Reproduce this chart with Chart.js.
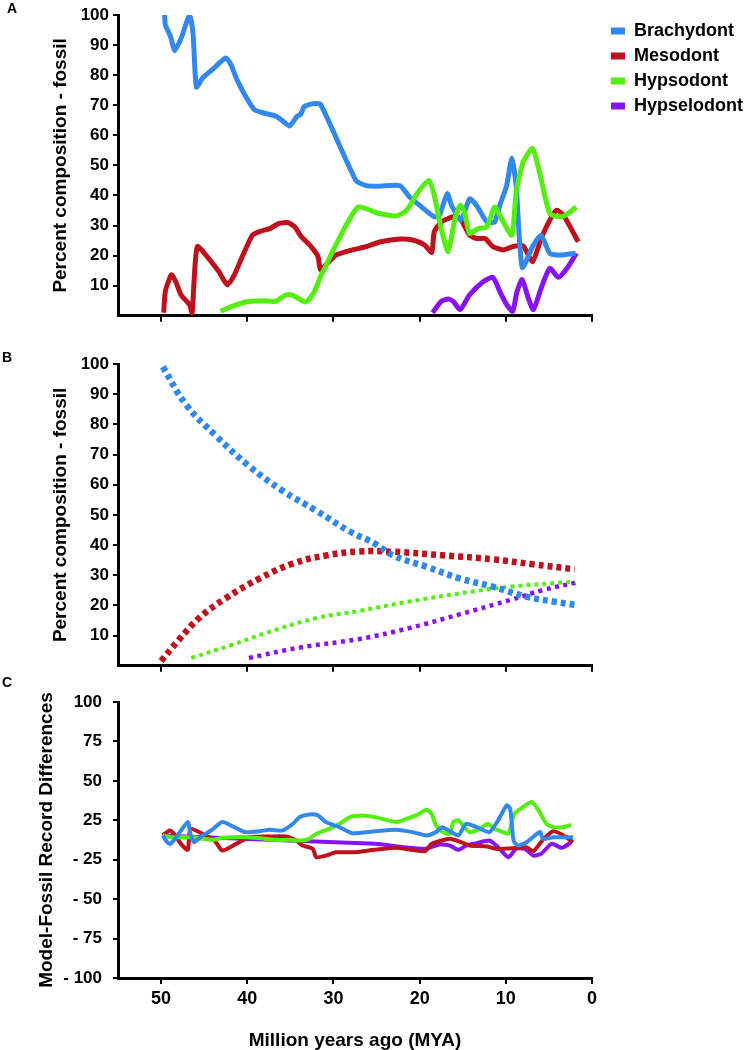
<!DOCTYPE html>
<html><head><meta charset="utf-8">
<script src="https://cdn.jsdelivr.net/npm/chart.js@4.4.1/dist/chart.umd.min.js"></script>
<style>
body{margin:0;background:#fff;width:747px;height:1050px;position:relative;overflow:hidden;font-family:"Liberation Sans",Arial,sans-serif;}
canvas{position:absolute;left:0;}
.lbl{position:absolute;font:bold 14px "Liberation Sans",Arial,sans-serif;line-height:14px;color:#000;z-index:5;}
</style></head><body>
<div class="lbl" style="left:7px;top:1px">A</div>
<div class="lbl" style="left:2px;top:350px">B</div>
<div class="lbl" style="left:2px;top:675px">C</div>
<canvas id="cA" width="747" height="330" style="top:0"></canvas>
<canvas id="cB" width="747" height="350" style="top:330px"></canvas>
<canvas id="cC" width="747" height="370" style="top:680px"></canvas>
<script>
// ---------- data ----------
const SERIES = ['Brachydont','Mesodont','Hypsodont','Hypselodont'];
const COLORS = ['#3388ee','#c0101c','#55ee11','#8811ff'];
const X_TICKS = [50,40,30,20,10,0];
const Y_TICKS_AB = [10,20,30,40,50,60,70,80,90,100];
const C_TICK_LABELS = ['- 100','- 75','- 50','- 25','25','50','75','100'];

// Panel A: fossil record [MYA, percent]
const fossilBrachydont = [[49.6,100],[49.5,96.7],[48.9,92.8],[48.4,88.2],[47.6,92.8],[46.7,100],[46.3,94],[45.9,76],[45.2,79],[44.0,82],[42.5,85.7],[41.9,83.5],[41.2,78.5],[40.2,73],[39.2,68.6],[38.2,67.5],[36.7,66.4],[35.9,64.8],[35.1,63.1],[34.2,66.4],[33.8,67],[33.4,69.5],[32.4,70.5],[31.5,70.3],[27.4,45],[26.2,43.3],[24.7,43.1],[22.3,43.3],[21.2,39.6],[20.0,36.7],[18.3,32.9],[17.7,33.4],[16.8,40.6],[16.3,36.7],[15.2,31.8],[14.2,38.9],[13.4,36.7],[12.2,31.2],[11.3,31.2],[10.7,36.7],[9.9,43.3],[9.3,52.4],[8.8,43.3],[8.1,16.1],[6.8,23.5],[5.9,26.8],[4.9,20.8],[3.7,20.2],[1.9,20.8]];
const fossilMesodont = [[49.7,1],[49.5,8.2],[48.8,13.6],[48.3,11.4],[47.7,7],[46.7,3.7],[46.4,1],[46.2,10.3],[45.8,23],[44.8,20.2],[43.3,14.7],[42.3,10.3],[41.5,13.6],[40.5,20.2],[39.4,26.8],[38.6,28],[37.4,29],[36.3,30.7],[35.3,31],[34.5,29.6],[33.8,26.6],[32.6,23],[31.8,19.7],[31.5,15.3],[30.7,17.5],[29.7,20.2],[27.8,21.9],[26.2,23],[24.5,24.6],[22.3,25.5],[20.8,25.2],[19.4,23.5],[18.6,21.1],[18.3,28],[17.5,31.2],[16.1,32.9],[15.3,32.3],[14.2,26.8],[13.4,25.7],[12.4,25.7],[11.5,23],[10.3,21.9],[9.2,23],[8.0,23.3],[6.9,18],[5.9,25.7],[4.9,31.8],[4.1,35.1],[3.3,33.4],[1.6,24.6]];
const fossilHypsodont = [[43.1,1.5],[41.7,3.2],[40.2,4.6],[38.2,5],[36.7,4.8],[35.5,7],[34.7,6.8],[33.2,4.6],[32.2,8.1],[31.5,13.1],[31.0,15.8],[30.1,21.4],[27.2,36],[24.7,34],[22.7,33.2],[21.5,35.1],[20.2,41.1],[18.9,45],[18.3,40],[17.5,29],[16.7,21.4],[15.9,32.3],[15.3,36.7],[14.8,34.6],[14.2,27.4],[13.2,29],[12.2,29.6],[11.3,36.2],[10.5,32.3],[9.3,26.8],[8.8,41.1],[8.0,51],[6.9,55.6],[6.0,46.6],[4.9,34],[3.7,32.9],[2.8,34],[1.8,36.2]];
const fossilHypselodont = [[18.5,1],[17.5,4.8],[16.7,5.6],[16.1,4.8],[15.3,2.1],[14.2,7],[12.6,11.4],[11.5,12.8],[10.7,8.1],[9.9,3.7],[9.2,1.5],[8.7,8.1],[8.1,12],[7.4,5.9],[6.8,2.1],[5.9,9.2],[4.9,15.8],[3.9,12.8],[2.9,15.8],[1.8,20.8]];

// Panel B: model [MYA, percent]
const modelBrachydont = [[49.8,99.1],[47.1,86.5],[43.6,76.1],[39.8,66.2],[35.9,58],[32.0,51.4],[28.1,44.5],[25.2,40.5],[23.1,36.6],[19.2,32.8],[15.3,28.9],[11.5,26.2],[7.6,22.9],[4.5,21.3],[2.0,20.2]];
const modelMesodont = [[50,1.6],[47.9,8.7],[45.6,15.8],[42.5,22.4],[38.6,28.9],[34.7,33.9],[30.8,36.6],[27.0,37.9],[23.1,37.8],[17.3,36.6],[11.5,35.3],[6.8,33.6],[2.0,32.0]];
const modelHypsodont = [[46.5,2.6],[41.7,7],[37.8,10.9],[32.0,15.8],[27.0,18.2],[21.2,21.3],[15.3,24],[9.5,26.2],[2.0,27.9]];
const modelHypselodont = [[39.8,2.6],[34.0,6.0],[27.0,8.9],[21.2,12.5],[15.3,17.1],[9.5,21.8],[5.7,25.1],[1.8,27.6]];

// Panel C: model - fossil differences [MYA, axis units, -100..100]
const diffBrachydont = [[49.8,3.3],[49.3,-1.6],[48.9,-2.8],[48.1,3.3],[46.9,13],[46.6,4.5],[46.2,-1.6],[45.2,3.3],[44.2,6.9],[42.9,13],[41.5,9.3],[40.2,5.7],[38.6,6.4],[37.4,7.4],[35.9,6.9],[34.7,11.8],[33.9,16.6],[32.8,18.5],[31.8,17.8],[30.9,13],[29.3,9.3],[27.8,4.9],[25.2,6.4],[22.7,7.4],[20.8,5.7],[19.2,3.3],[18.1,5.7],[17.4,9.3],[16.3,5.7],[15.5,3.3],[14.6,11.8],[13.4,9.3],[11.9,5.7],[10.9,14.2],[9.9,25.1],[9.5,22.7],[9.1,-0.4],[8.6,-4],[7.6,-1.6],[6.4,4.5],[6.0,5.7],[5.7,0.9],[4.5,2],[2.2,2]];
const diffMesodont = [[49.8,3.3],[49.0,6.9],[48.5,4.5],[47.7,-2.8],[46.9,-7.1],[46.6,8.1],[45.2,4.5],[43.8,-0.4],[42.9,-7.6],[41.3,-2.8],[39.8,2],[37.4,2.5],[35.5,2.5],[34.3,-0.4],[33.6,-4],[32.4,-6.4],[32.0,-12.5],[30.9,-11.3],[29.7,-8.9],[27.4,-8.9],[25.2,-7.1],[22.7,-5.7],[19.4,-8.1],[18.6,-2.8],[16.5,0.9],[15.2,-1.6],[14.2,-4],[12.2,-4.7],[11.1,-6.4],[9.1,-6],[7.6,-5.2],[6.8,-8.1],[5.7,0.1],[4.5,6.4],[3.3,3.3],[2.2,-1.6]];
const diffHypsodont = [[49.8,3.3],[48.7,2],[46.4,2],[44.0,0.1],[42.9,1.6],[39.8,2],[36.7,0.1],[35.1,0.1],[33.6,-0.4],[32.8,0.9],[32.0,4.5],[30.5,8.1],[29.3,11.8],[28.1,16.6],[26.6,17.8],[25.2,16.6],[22.7,13],[21.5,15.4],[20.4,17.8],[19.2,22],[18.6,19],[18.1,10.5],[17.3,5.7],[16.5,4.5],[16.1,13],[15.5,14.2],[14.8,9.3],[14.2,5.7],[13.0,8.1],[12.1,11.8],[11.3,8.1],[10.3,5.7],[9.7,4.5],[9.0,19],[8.0,23.9],[7.0,27.5],[6.2,21.5],[5.3,11.8],[4.5,9.3],[3.3,9.3],[2.4,11]];
const diffHypselodont = [[49.8,3],[25.2,-2.8],[21.9,-5.2],[19.4,-6.4],[17.7,-3.3],[16.5,-4],[15.5,-7.1],[14.6,-4],[13.4,-2.3],[11.9,-0.4],[10.9,-5.2],[9.7,-12.5],[8.8,-6.4],[7.8,-6.4],[6.8,-11.3],[5.9,-10],[4.7,-2.8],[3.5,-5.7],[2.4,-1.6]];

// ---------- chart setup ----------
Chart.defaults.font.family = '"Liberation Sans", Arial, sans-serif';
Chart.defaults.font.weight = 'bold';
Chart.defaults.color = '#000';

const pts = arr => arr.map(([x, y]) => ({x, y}));
const C_TICK_VALUES = C_TICK_LABELS.map((_, i) => -100 + i * 200 / 7);

function xScale(showLabels, height) {
  return {
    type: 'linear', reverse: true, min: 0, max: 55,
    afterBuildTicks: s => { s.ticks = X_TICKS.map(v => ({value: v})); },
    grid: {display: true, drawOnChartArea: false, drawTicks: true, tickLength: 6, color: '#000', lineWidth: 2},
    border: {display: true, color: '#000', width: 3},
    ticks: {display: showLabels, color: '#000', font: {size: 18, weight: 'bold'}, padding: 4, maxRotation: 0, autoSkip: false},
    title: showLabels ? {display: true, text: 'Million years ago (MYA)', color: '#000', font: {size: 19, weight: 'bold', lineHeight: 1}, padding: {top: 0, bottom: 0}} : {display: false},
    afterFit: s => { s.height = height; }
  };
}
function yScaleAB() {
  return {
    type: 'linear', min: 0, max: 100,
    afterBuildTicks: s => { s.ticks = Y_TICKS_AB.map(v => ({value: v})); },
    grid: {drawOnChartArea: false, tickLength: 5, color: '#000', lineWidth: 2},
    border: {color: '#000', width: 3},
    ticks: {color: '#000', font: {size: 17, weight: 'bold'}, padding: 4},
    title: {display: true, text: 'Percent composition - fossil', color: '#000', font: {size: 19, weight: 'bold', lineHeight: 1}, padding: {top: 51.5, bottom: 0}},
    afterFit: s => { s.width = 118; }
  };
}
const base = {responsive: false, animation: false, devicePixelRatio: 1, events: []};

// Panel A
const aData = [fossilBrachydont, fossilMesodont, fossilHypsodont, fossilHypselodont];
const aOrder = [1, 2, 0, 3];
new Chart(document.getElementById('cA'), {
  type: 'line',
  data: {datasets: aData.map((d, i) => ({
    label: SERIES[i], data: pts(d), borderColor: COLORS[i], backgroundColor: COLORS[i],
    borderWidth: 5, pointRadius: 0, fill: false, tension: 0.2, borderJoinStyle: 'round', order: aOrder[i]
  }))},
  options: Object.assign({}, base, {
    layout: {padding: {left: 0, top: 15, right: 0, bottom: 0}},
    scales: {
      x: xScale(false, 12),
      y: yScaleAB(),
      yR: {type: 'linear', position: 'right', display: true, grid: {display: false}, border: {display: false}, ticks: {display: false}, afterFit: s => { s.width = 12; }}
    },
    plugins: {
      tooltip: {enabled: false},
      legend: {display: true, position: 'right', align: 'start', maxWidth: 143,
        labels: {boxWidth: 14, boxHeight: 7, padding: 7, color: '#000', font: {size: 18, weight: 'bold'},
          generateLabels: chart => chart.data.datasets.map((d, i) => ({text: d.label, fillStyle: d.borderColor, strokeStyle: d.borderColor, lineWidth: 0, hidden: false, datasetIndex: i}))}}
    }
  })
});

// Panel B
const bData = [modelBrachydont, modelMesodont, modelHypsodont, modelHypselodont];
const bWidth = [6.5, 6.5, 4, 4.5];
const bDash = [[5, 4], [5, 4], [4, 4], [4, 4.5]];
new Chart(document.getElementById('cB'), {
  type: 'line',
  data: {datasets: bData.map((d, i) => ({
    label: SERIES[i], data: pts(d), borderColor: COLORS[i], backgroundColor: COLORS[i],
    borderWidth: bWidth[i], borderDash: bDash[i], borderCapStyle: 'butt', pointRadius: 0, fill: false, tension: 0.4
  }))},
  options: Object.assign({}, base, {
    layout: {padding: {left: 0, top: 34, right: 155, bottom: 0}},
    scales: {x: xScale(false, 12), y: yScaleAB()},
    plugins: {tooltip: {enabled: false}, legend: {display: false}}
  })
});

// Panel C
const cData = [diffBrachydont, diffMesodont, diffHypsodont, diffHypselodont];
const cOrder = [0, 2, 1, 3];
new Chart(document.getElementById('cC'), {
  type: 'line',
  data: {datasets: cData.map((d, i) => ({
    label: SERIES[i], data: pts(d), borderColor: COLORS[i], backgroundColor: COLORS[i],
    borderWidth: 4, pointRadius: 0, fill: false, tension: 0.2, borderJoinStyle: 'round', order: cOrder[i]
  }))},
  options: Object.assign({}, base, {
    layout: {padding: {left: 0, top: 22, right: 155, bottom: 0}},
    scales: {
      x: xScale(true, 72),
      y: {
        type: 'linear', min: -100, max: 100,
        afterBuildTicks: s => { s.ticks = C_TICK_VALUES.map(v => ({value: v})); },
        grid: {drawOnChartArea: false, tickLength: 5, color: '#000', lineWidth: 2},
        border: {color: '#000', width: 3},
        ticks: {color: '#000', font: {size: 17, weight: 'bold'}, padding: 11, callback: (v, i) => C_TICK_LABELS[i]},
        title: {display: true, text: 'Model-Fossil Record Differences', color: '#000', font: {size: 19, weight: 'bold', lineHeight: 1}, padding: {top: 37, bottom: 0}},
        afterFit: s => { s.width = 118; }
      }
    },
    plugins: {tooltip: {enabled: false}, legend: {display: false}}
  })
});
</script>
</body></html>
